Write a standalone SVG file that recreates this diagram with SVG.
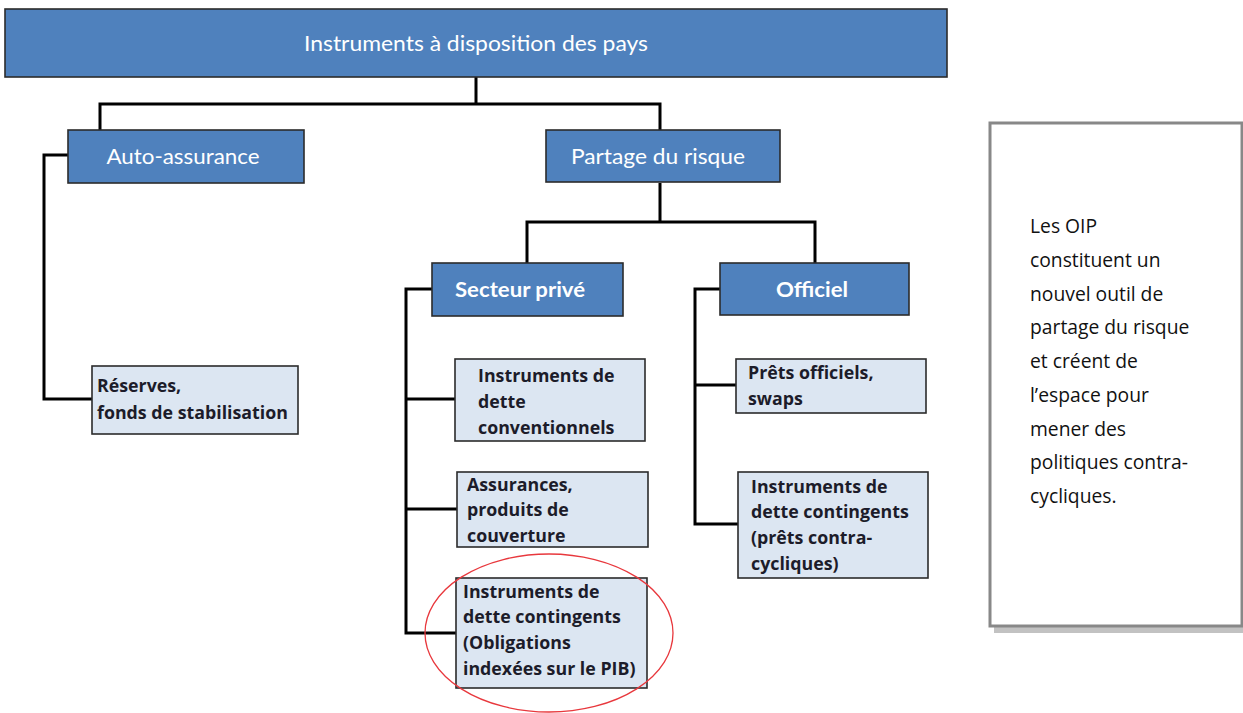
<svg xmlns="http://www.w3.org/2000/svg" width="1243" height="713" viewBox="0 0 1243 713">
<style>
.dk{fill:#4F81BD;stroke:#2b2b2b;stroke-width:1.6}
.lt{fill:#DCE6F2;stroke:#2b2b2b;stroke-width:1.6}
.hw{font-family:Lato,"Liberation Sans",sans-serif;fill:#fff;font-size:21px}
.hb{font-family:Lato,"Liberation Sans",sans-serif;font-weight:bold;fill:#fff;font-size:21px}
.tb{font-family:"Open Sans","Liberation Sans",sans-serif;font-weight:bold;fill:#1c1c2a;font-size:17.8px}
.nt{font-family:"Open Sans","Liberation Sans",sans-serif;fill:#111;font-size:19.3px}
.cn{fill:none;stroke:#000;stroke-width:3}
</style>
<rect width="1243" height="713" fill="#fff"/>
<g id="connectors">
<path class="cn" d="M476,77 V104 M100,130 V104 H660 V130"/>
<path class="cn" d="M660,183 V222 M527,263 V222 H815 V263"/>
<path class="cn" d="M68,155 H44 V399 H92"/>
<path class="cn" d="M432,289 H406 V633 H456 M406,399 H455 M406,509 H457"/>
<path class="cn" d="M720,289 H695 V524 H738 M695,385 H736"/>
</g>
<g id="root"><rect class="dk" x="5" y="9" width="942" height="68"/><text class="hw" x="476" y="51" text-anchor="middle" textLength="344" lengthAdjust="spacingAndGlyphs">Instruments à disposition des pays</text></g>
<g id="auto"><rect class="dk" x="68" y="130" width="236" height="53"/><text class="hw" x="183" y="164" text-anchor="middle" textLength="153" lengthAdjust="spacingAndGlyphs">Auto-assurance</text></g>
<g id="partage"><rect class="dk" x="546" y="130" width="234" height="52"/><text class="hw" x="658" y="164" text-anchor="middle" textLength="174" lengthAdjust="spacingAndGlyphs">Partage du risque</text></g>
<g id="prive"><rect class="dk" x="432" y="263" width="191" height="53"/><text class="hb" x="520" y="297" text-anchor="middle" textLength="130" lengthAdjust="spacingAndGlyphs">Secteur privé</text></g>
<g id="officiel"><rect class="dk" x="720" y="263" width="189" height="52"/><text class="hb" x="812" y="297" text-anchor="middle" textLength="72" lengthAdjust="spacingAndGlyphs">Officiel</text></g>
<g id="reserves"><rect class="lt" x="92" y="366" width="206" height="68"/><text class="tb" x="97" y="392">Réserves,</text><text class="tb" x="97" y="419">fonds de stabilisation</text></g>
<g id="conv"><rect class="lt" x="455" y="359" width="190" height="82"/><text class="tb" x="478" y="382">Instruments de</text><text class="tb" x="478" y="408">dette</text><text class="tb" x="478" y="434">conventionnels</text></g>
<g id="assur"><rect class="lt" x="457" y="472" width="191" height="75"/><text class="tb" x="467" y="491">Assurances,</text><text class="tb" x="467" y="516">produits de</text><text class="tb" x="467" y="542">couverture</text></g>
<g id="pib"><rect class="lt" x="456" y="578" width="191" height="110"/><text class="tb" x="463" y="598">Instruments de</text><text class="tb" x="463" y="623">dette contingents</text><text class="tb" x="463" y="649">(Obligations</text><text class="tb" x="463" y="675">indexées sur le PIB)</text></g>
<g id="prets"><rect class="lt" x="736" y="359" width="190" height="54"/><text class="tb" x="748" y="379">Prêts officiels,</text><text class="tb" x="748" y="405">swaps</text></g>
<g id="contra"><rect class="lt" x="738" y="472" width="190" height="106"/><text class="tb" x="751" y="493">Instruments de</text><text class="tb" x="751" y="518">dette contingents</text><text class="tb" x="751" y="544">(prêts contra-</text><text class="tb" x="751" y="570">cycliques)</text></g>
<ellipse id="highlight" cx="549" cy="633" rx="124" ry="79" fill="none" stroke="#e8383d" stroke-width="1.3"/>
<g id="note">
<rect x="994" y="127" width="252" height="506" fill="#9a9a9a" opacity="0.6"/>
<rect x="990" y="123" width="252" height="503" fill="#fff" stroke="#888" stroke-width="3"/>
<text class="nt" x="1030" y="233">Les OIP</text>
<text class="nt" x="1030" y="267">constituent un</text>
<text class="nt" x="1030" y="301">nouvel outil de</text>
<text class="nt" x="1030" y="334">partage du risque</text>
<text class="nt" x="1030" y="368">et créent de</text>
<text class="nt" x="1030" y="402">l’espace pour</text>
<text class="nt" x="1030" y="436">mener des</text>
<text class="nt" x="1030" y="469">politiques contra-</text>
<text class="nt" x="1030" y="503">cycliques.</text>
</g>
</svg>
